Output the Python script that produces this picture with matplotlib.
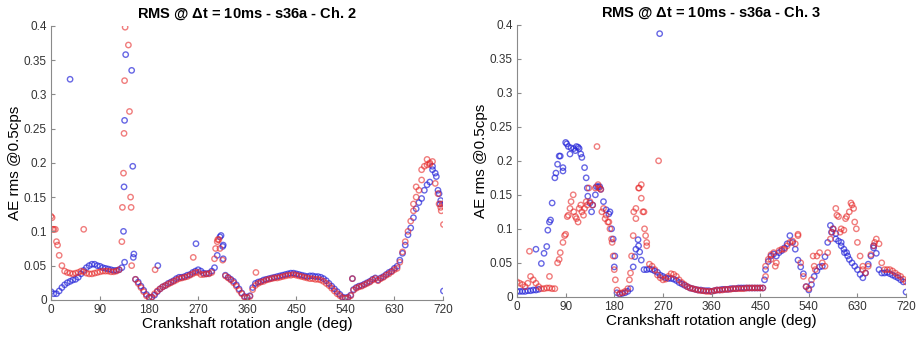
import matplotlib
matplotlib.use('Agg')
import matplotlib.pyplot as plt
import numpy as np

# crank angle grid (deg) for the main trend of every series
angles = np.arange(0, 721, 5)
nan = np.nan

# ---- Ch. 2 ----
ch2_blue = [0.012, 0.009, 0.009, 0.013, 0.018, 0.022, 0.025, 0.027, 0.029, 0.030,
            0.033, 0.038, 0.043, 0.047, 0.050, 0.052, 0.052, 0.050, 0.049, 0.047,
            0.046, 0.045, 0.044, 0.043, 0.043, 0.044, 0.047, 0.055, nan, nan,
            nan, 0.030, 0.026, 0.020, 0.014, 0.008, 0.004, 0.004, 0.007, 0.012,
            0.016, 0.019, 0.021, 0.024, 0.026, 0.028, 0.031, 0.033, 0.033, 0.034,
            0.036, 0.037, 0.040, 0.042, 0.044, 0.042, 0.039, 0.038, 0.039, 0.042,
            0.047, 0.065, 0.092, 0.078, 0.036, 0.033, 0.030, 0.027, 0.022, 0.016,
            0.010, 0.005, 0.004, 0.006, 0.018, 0.024, 0.026, 0.027, 0.029, 0.030,
            0.031, 0.032, 0.033, 0.034, 0.035, 0.036, 0.037, 0.038, 0.039, 0.039,
            0.038, 0.037, 0.036, 0.035, 0.034, 0.035, 0.035, 0.034, 0.034, 0.033,
            0.031, 0.028, 0.024, 0.020, 0.016, 0.012, 0.008, 0.004, 0.003, 0.004,
            0.007, 0.015, 0.018, 0.020, 0.021, 0.023, 0.025, 0.027, 0.030, 0.032,
            0.029, 0.032, 0.034, 0.037, 0.040, 0.042, 0.046, 0.049, 0.058, 0.068,
            0.080, 0.095, 0.105, 0.120, 0.133, 0.142, 0.148, 0.160, 0.168, 0.172,
            0.190, 0.185, 0.160, 0.145, 0.013]
ch2_red = [0.122, 0.103, 0.085, 0.065, 0.050, 0.042, 0.040, 0.039, 0.038, 0.039,
           0.040, 0.042, 0.041, 0.039, 0.038, 0.038, 0.039, 0.040, 0.041, 0.042,
           0.042, 0.042, 0.041, 0.041, 0.042, 0.044, 0.085, nan, nan, nan,
           nan, 0.030, 0.024, 0.018, 0.012, 0.006, 0.003, 0.004, 0.009, 0.013,
           0.016, 0.019, 0.021, 0.023, 0.025, 0.027, 0.029, 0.031, 0.032, 0.033,
           0.034, 0.036, 0.038, 0.040, 0.040, 0.037, 0.037, 0.038, 0.038, 0.040,
           0.060, 0.085, 0.075, 0.058, 0.035, 0.032, 0.029, 0.025, 0.020, 0.014,
           0.009, 0.004, 0.003, 0.005, 0.015, 0.021, 0.024, 0.026, 0.027, 0.029,
           0.030, 0.031, 0.032, 0.032, 0.033, 0.034, 0.035, 0.036, 0.036, 0.037,
           0.036, 0.035, 0.034, 0.033, 0.032, 0.031, 0.031, 0.030, 0.030, 0.029,
           0.027, 0.024, 0.021, 0.017, 0.013, 0.009, 0.006, 0.003, 0.002, 0.003,
           0.006, 0.014, 0.017, 0.019, 0.020, 0.022, 0.024, 0.026, 0.029, 0.031,
           0.028, 0.031, 0.033, 0.036, 0.038, 0.041, 0.044, 0.046, 0.055, 0.070,
           0.085, 0.100, 0.115, 0.130, 0.150, 0.160, 0.175, 0.195, 0.197, 0.198,
           0.202, 0.170, 0.155, 0.135, 0.110]
ch2_blue_x = [35, 133, 134, 135, 137, 148, 150, 152, 151, 196, 266, 312, 316, 316,
              553, 700, 707, 712, 714]
ch2_blue_y = [0.322, 0.100, 0.165, 0.262, 0.358, 0.335, 0.195, 0.067, 0.062, 0.050,
              0.082, 0.094, 0.080, 0.060, 0.031, 0.195, 0.180, 0.155, 0.140]
ch2_red_x = [2, 3, 8, 12, 60, 131, 133, 134, 135, 136, 142, 144, 146, 147, 148,
             191, 261, 302, 306, 308, 376, 553, 665, 670, 680, 690, 695, 712, 716, 718]
ch2_red_y = [0.120, 0.103, 0.103, 0.080, 0.103, 0.135, 0.185, 0.243, 0.320, 0.398,
             0.372, 0.275, 0.150, 0.135, 0.050, 0.044, 0.062, 0.075, 0.088, 0.088,
             0.040, 0.031, 0.140, 0.165, 0.190, 0.205, 0.200, 0.140, 0.130, 0.140]

# ---- Ch. 3 ----
ch3_blue = [0.008, 0.008, 0.008, 0.008, 0.009, 0.009, 0.010, 0.010, 0.011, 0.049,
            0.064, 0.074, 0.110, 0.138, 0.175, 0.195, 0.207, 0.190, 0.227, 0.221,
            0.219, 0.218, 0.221, 0.218, 0.205, 0.190, 0.160, 0.138, 0.135, 0.150,
            0.162, 0.158, 0.140, 0.128, 0.122, 0.100, 0.044, 0.006, 0.004, 0.005,
            0.006, 0.008, 0.012, 0.044, 0.070, 0.075, 0.054, 0.040, 0.040, 0.041,
            0.040, 0.038, 0.036, 0.032, 0.030, 0.028, 0.027, 0.027, 0.026, 0.024,
            0.021, 0.019, 0.017, 0.015, 0.013, 0.012, 0.011, 0.010, 0.010, 0.009,
            0.009, 0.009, 0.008, 0.009, 0.010, 0.010, 0.011, 0.011, 0.011, 0.012,
            0.012, 0.012, 0.013, 0.013, 0.013, 0.013, 0.013, 0.013, 0.013, 0.013,
            0.013, 0.013, 0.040, 0.052, 0.060, 0.063, 0.060, 0.065, 0.068, 0.072,
            0.078, 0.090, 0.080, 0.070, 0.054, 0.044, 0.034, 0.015, 0.010, 0.018,
            0.030, 0.038, 0.044, 0.045, 0.059, 0.080, 0.105, 0.100, 0.093, 0.082,
            0.075, 0.070, 0.065, 0.055, 0.050, 0.045, 0.040, 0.033, 0.028, 0.035,
            0.048, 0.060, 0.072, 0.064, 0.040, 0.035, 0.035, 0.036, 0.034, 0.032,
            0.030, 0.028, 0.025, 0.022, 0.007]
ch3_red = [0.022, 0.020, 0.018, 0.015, 0.020, 0.030, 0.025, 0.020, 0.015, 0.012,
           0.012, 0.013, 0.013, 0.012, 0.012, 0.050, 0.065, 0.080, 0.092, 0.120,
           0.140, 0.125, 0.115, 0.130, 0.125, 0.130, 0.135, 0.140, 0.135, 0.160,
           0.165, 0.158, 0.130, 0.120, 0.110, 0.085, 0.040, 0.010, 0.005, 0.006,
           0.008, 0.012, 0.035, 0.090, 0.115, 0.160, 0.165, 0.125, 0.075, 0.048,
           0.045, 0.040, 0.032, 0.028, 0.025, 0.026, 0.030, 0.034, 0.033, 0.030,
           0.025, 0.021, 0.018, 0.015, 0.013, 0.012, 0.011, 0.010, 0.009, 0.009,
           0.008, 0.008, 0.008, 0.009, 0.010, 0.010, 0.010, 0.011, 0.011, 0.011,
           0.012, 0.012, 0.012, 0.012, 0.012, 0.013, 0.013, 0.013, 0.013, 0.013,
           0.013, 0.013, 0.045, 0.055, 0.062, 0.065, 0.050, 0.068, 0.070, 0.070,
           0.075, 0.080, 0.082, 0.078, 0.092, 0.050, 0.030, 0.015, 0.012, 0.025,
           0.045, 0.060, 0.065, 0.050, 0.045, 0.065, 0.085, 0.100, 0.130, 0.118,
           0.100, 0.098, 0.118, 0.125, 0.135, 0.110, 0.080, 0.060, 0.040, 0.035,
           0.045, 0.062, 0.075, 0.085, 0.078, 0.050, 0.040, 0.040, 0.040, 0.038,
           0.035, 0.032, 0.030, 0.026, 0.022]
ch3_blue_x = [35, 57, 62, 72, 78, 85, 92, 98, 108, 113, 118, 128, 131, 138, 147,
              153, 172, 178, 181, 218, 224, 227, 264, 458, 582, 590, 600, 606, 612, 660]
ch3_blue_y = [0.070, 0.098, 0.113, 0.182, 0.207, 0.185, 0.225, 0.210, 0.215, 0.220,
              0.210, 0.175, 0.148, 0.125, 0.162, 0.162, 0.125, 0.085, 0.060, 0.059,
              0.084, 0.066, 0.387, 0.025, 0.095, 0.085, 0.080, 0.065, 0.060, 0.075]
ch3_red_x = [23, 60, 78, 88, 93, 98, 104, 108, 113, 118, 123, 128, 133, 148, 152,
             157, 163, 168, 172, 176, 178, 182, 208, 212, 216, 220, 226, 230, 233,
             236, 238, 240, 262, 460, 470, 478, 520, 548, 552, 583, 592, 598, 608,
             618, 623, 628, 640, 662]
ch3_red_y = [0.067, 0.030, 0.055, 0.090, 0.118, 0.130, 0.150, 0.118, 0.110, 0.135,
             0.120, 0.140, 0.160, 0.221, 0.160, 0.125, 0.115, 0.110, 0.100, 0.080,
             0.060, 0.025, 0.025, 0.060, 0.125, 0.130, 0.160, 0.145, 0.125, 0.100,
             0.090, 0.080, 0.200, 0.030, 0.055, 0.045, 0.090, 0.060, 0.040, 0.095,
             0.120, 0.095, 0.115, 0.138, 0.130, 0.100, 0.045, 0.080]

titles = ['RMS @ $\\Delta$t = 10ms - s36a - Ch. 2', 'RMS @ $\\Delta$t = 10ms - s36a - Ch. 3']
xticks = np.arange(0, 721, 90)
yticks = np.arange(0, 0.41, 0.05)

plt.rcParams['font.family'] = ['Liberation Sans', 'DejaVu Sans']
plt.rcParams['mathtext.fontset'] = 'custom'
plt.rcParams['mathtext.rm'] = 'Liberation Sans:bold'

fig = plt.figure(figsize=(9.19, 3.4), dpi=100)
ax1 = fig.add_axes([0.0555, 0.118, 0.427, 0.806])
ax2 = fig.add_axes([0.5626, 0.127, 0.4233, 0.800])

series = [(ax1, ch2_blue, ch2_red, ch2_blue_x, ch2_blue_y, ch2_red_x, ch2_red_y),
          (ax2, ch3_blue, ch3_red, ch3_blue_x, ch3_blue_y, ch3_red_x, ch3_red_y)]

blue = (0.15, 0.15, 0.85, 0.7)
red = (0.9, 0.15, 0.15, 0.6)

for i, (ax, by, ry, bx2, by2, rx2, ry2) in enumerate(series):
    kw = dict(s=15, facecolors='none', linewidths=1.0)
    ax.scatter(angles, by, edgecolors=[blue], **kw)
    ax.scatter(bx2, by2, edgecolors=[blue], **kw)
    ax.scatter(angles, ry, edgecolors=[red], **kw)
    ax.scatter(rx2, ry2, edgecolors=[red], **kw)

    ax.set_xlim(0, 720)
    ax.set_ylim(0, 0.4)
    ax.set_xticks(xticks)
    ax.set_yticks(yticks)
    ax.set_yticklabels(['%g' % round(v, 2) for v in yticks])
    for s in ['top', 'right']:
        ax.spines[s].set_visible(False)
    for s in ['left', 'bottom']:
        ax.spines[s].set_color('#8a8a8a')
    ax.tick_params(direction='in', length=3, colors='#8a8a8a',
                   labelcolor='#333333', labelsize=8.5, pad=3)
    ax.set_title(titles[i], fontsize=10.5, fontweight='bold', pad=6)
    ax.set_xlabel('Crankshaft rotation angle (deg)', fontsize=11, labelpad=1)
    ax.set_ylabel('AE rms @0.5cps', fontsize=11, labelpad=1)

fig.savefig('out.png', dpi=100)
